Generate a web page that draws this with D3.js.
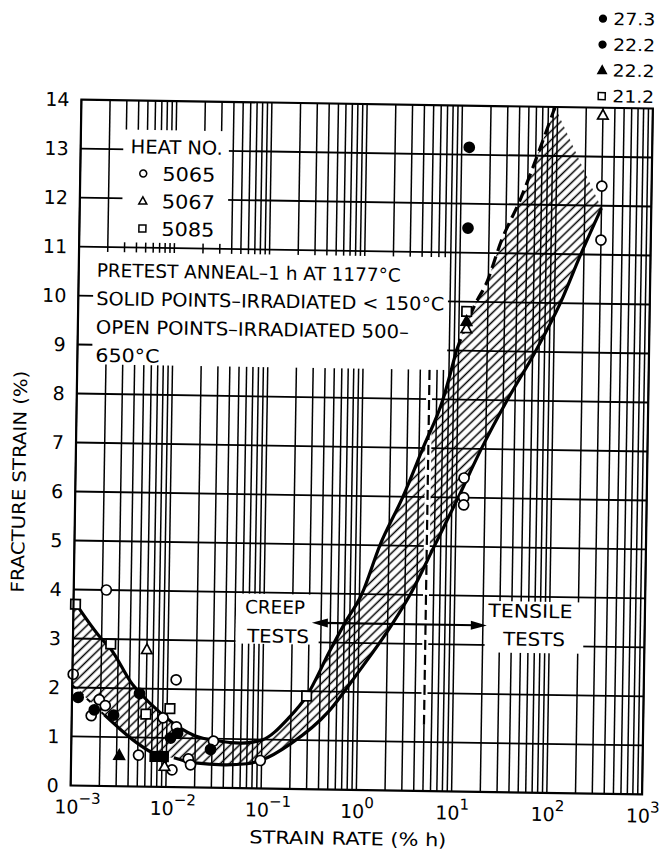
<!DOCTYPE html>
<html lang="en">
<head>
<meta charset="UTF-8">
<title>Fracture strain vs strain rate</title>
<script src="https://d3js.org/d3.v7.min.js"></script>
<style>
  body { margin: 0; background: #fff; }
  text { font-family: "DejaVu Sans", sans-serif; fill: #000; }
</style>
</head>
<body>
<script>
// values: [strain rate (%/h), fracture strain (%)]
var openCircles = [[1.02e-3, 2.27], [2.2e-3, 4.0], [1.93e-3, 1.76], [2.24e-3, 1.64], [1.6e-3, 1.43],
    [9.1e-3, 1.41], [1.23e-2, 2.19], [1.26e-2, 1.23], [5.1e-3, 0.64], [1.15e-2, 0.35],
    [1.7e-2, 0.58], [1.8e-2, 0.46], [3.1e-2, 0.95], [9.7e-2, 0.57],
    [12, 6.4], [12, 6.0], [12, 5.85], [300, 12.4], [300, 11.3]];
var openSquares = [[1.05e-3, 3.7], [2.5e-3, 2.9], [6.0e-3, 1.48], [1.07e-2, 1.6], [0.29, 1.9], [12, 9.8]];
var openTriangles = [[6.0e-3, 2.8], [9.6e-3, 0.42], [12, 9.45], [300, 13.85]];
var filledCircles = [[1.16e-3, 1.8], [1.72e-3, 1.55], [2.75e-3, 1.45], [5.1e-3, 1.9], [1.1e-2, 1.0],
    [1.3e-2, 1.1], [2.9e-2, 0.78], [12, 13.15], [12, 11.5]];
var filledTriangles = [[3.2e-3, 0.63], [12, 9.6]];
var filledSquares = [[7.6e-3, 0.62], [9.3e-3, 0.62]];

// scatter band boundaries
var upperCurve = [[1e-3, 3.78], [2e-3, 3.0], [2.5e-3, 2.8], [4.3e-3, 2.08], [5.1e-3, 1.92], [8.3e-3, 1.53],
    [1.4e-2, 1.2], [2e-2, 1.05], [3.4e-2, 0.96], [6e-2, 0.92], [0.1, 0.99], [0.19, 1.45], [0.29, 1.9],
    [0.5, 2.83], [0.71, 3.4], [1.06, 4.0], [1.61, 5.0], [2.76, 6.0], [4.4, 7.0], [7, 8.0], [9.5, 9.0]];
var upperDashed = [[9.5, 9.0], [14.7, 9.95], [19.3, 10.4], [27, 11.25], [42, 12.1], [65, 13.1], [94, 14]];
var lowerLeft = [[2.2e-3, 1.45], [3e-3, 1.22], [4.8e-3, 0.9], [7e-3, 0.7], [9.5e-3, 0.6]];
var lowerCurve = [[1.2e-2, 0.6], [2e-2, 0.5], [4e-2, 0.47], [7e-2, 0.5], [0.1, 0.58], [0.2, 0.92],
    [0.5, 1.6], [1, 2.4], [2.24, 3.4], [3.4, 4.0], [6, 5.0], [10.5, 6.0], [18, 7.0], [33, 8.0],
    [64, 9.0], [115, 10.0], [185, 11.0], [300, 11.95]];
var leftEdge = [[1e-3, 2.05], [2.2e-3, 1.45]];

// off-scale points listed above the plot
var offScaleKinds = ["filledCircle", "filledCircle", "filledTriangle", "openSquare"];
var offScaleLabels = ["27.3", "22.2", "22.2", "21.2"];

var heatNumbers = ["5065", "5067", "5085"];
var notes = ["PRETEST ANNEAL\u20131 h AT 1177\u00b0C", "SOLID POINTS\u2013IRRADIATED < 150\u00b0C",
    "OPEN POINTS\u2013IRRADIATED 500\u2013", "650\u00b0C"];
var noteWidths = [304, 348, 313, 64];

var yTicks = d3.range(0, 15);
var xDecades = [-3, -2, -1, 0, 1, 2, 3];

var width = 665, height = 850;
var x = d3.scaleLog().domain([1e-3, 1e3]).range([76, 647.5]);
var y = d3.scaleLinear().domain([0, 14]).range([790, 104]);

var svg = d3.select("body").append("svg")
    .attr("width", width)
    .attr("height", height);

var line = d3.line()
    .x(d => x(d[0]))
    .y(d => y(d[1]))
    .curve(d3.curveMonotoneX);

var defs = svg.append("defs");
defs.append("pattern")
    .attr("id", "hatch")
    .attr("patternUnits", "userSpaceOnUse")
    .attr("width", 6.4).attr("height", 6.4)
    .attr("patternTransform", "rotate(45)")
    .append("line")
    .attr("x1", 3.2).attr("y1", 0).attr("x2", 3.2).attr("y2", 6.4)
    .attr("stroke", "#000").attr("stroke-width", 1.5);

// the scanned figure sits slightly tilted
var g = svg.append("g").attr("transform", "rotate(0.9, 362, 447)");

// grid
g.selectAll("line.vgrid")
    .data(x.ticks())
    .enter().append("line")
    .attr("class", "vgrid")
    .attr("x1", d => x(d)).attr("x2", d => x(d))
    .attr("y1", y(0)).attr("y2", y(14))
    .attr("stroke", "#000").attr("stroke-width", 1.5);

g.selectAll("line.hgrid")
    .data(d3.range(1, 14))
    .enter().append("line")
    .attr("class", "hgrid")
    .attr("x1", x(1e-3)).attr("x2", x(1e3))
    .attr("y1", d => y(d)).attr("y2", d => y(d))
    .attr("stroke", "#000").attr("stroke-width", 1.8);

// white boxes behind the lettering
var boxes = [
    [2.8e-3, 3.6e-2, 11.1, 13.4],
    [1.43e-3, 7.6, 8.6, 10.9],
    [0.051, 0.38, 2.95, 3.97],
    [21, 228, 2.85, 3.9]
];
g.selectAll("rect.box")
    .data(boxes)
    .enter().append("rect")
    .attr("class", "box")
    .attr("x", d => x(d[0]))
    .attr("width", d => x(d[1]) - x(d[0]))
    .attr("y", d => y(d[3]))
    .attr("height", d => y(d[2]) - y(d[3]))
    .attr("fill", "#fff");

// hatched band: along the upper boundary, then back along the lower one
var upperAll = upperCurve.concat(upperDashed.slice(1));
var lowerAll = [leftEdge[0]].concat(lowerLeft, lowerCurve);
var bandPath = line(upperAll) + "L" + line(lowerAll.slice().reverse()).slice(1) + "Z";
g.append("path")
    .attr("d", bandPath)
    .attr("fill", "url(#hatch)")
    .attr("stroke", "none");

// creep / tensile divider
var divider = [[5, 1.35], [5, 8.6]];
g.append("line")
    .attr("x1", x(divider[0][0])).attr("x2", x(divider[1][0]))
    .attr("y1", y(divider[0][1])).attr("y2", y(divider[1][1]))
    .attr("stroke", "#fff").attr("stroke-width", 6);
g.append("line")
    .attr("x1", x(divider[0][0])).attr("x2", x(divider[1][0]))
    .attr("y1", y(divider[0][1])).attr("y2", y(divider[1][1]))
    .attr("stroke", "#000").attr("stroke-width", 2.2)
    .attr("stroke-dasharray", "10,5");

// boundary curves
g.append("path").attr("d", line(upperCurve))
    .attr("fill", "none").attr("stroke", "#000").attr("stroke-width", 3.2);
g.append("path").attr("d", line(upperDashed))
    .attr("fill", "none").attr("stroke", "#000").attr("stroke-width", 3.2)
    .attr("stroke-dasharray", "12,6");
g.append("path").attr("d", line(lowerLeft))
    .attr("fill", "none").attr("stroke", "#000").attr("stroke-width", 3.2);
g.append("path").attr("d", line(lowerCurve))
    .attr("fill", "none").attr("stroke", "#000").attr("stroke-width", 3.2);
g.append("path").attr("d", line(leftEdge))
    .attr("fill", "none").attr("stroke", "#000").attr("stroke-width", 2)
    .attr("stroke-dasharray", "5,5");

// creep / tensile arrow
var arrowRange = [0.32, 22], arrowLevel = 3.4;
var ay = y(arrowLevel), ax0 = x(arrowRange[0]), ax1 = x(arrowRange[1]);
g.append("line")
    .attr("x1", ax0 + 10).attr("x2", ax1 - 10)
    .attr("y1", ay).attr("y2", ay)
    .attr("stroke", "#000").attr("stroke-width", 2.2);
g.append("path")
    .attr("d", "M" + ax0 + "," + ay + "L" + (ax0 + 16) + "," + (ay - 4.5) + "L" + (ax0 + 16) + "," + (ay + 4.5) + "Z")
    .attr("fill", "#000");
g.append("path")
    .attr("d", "M" + ax1 + "," + ay + "L" + (ax1 - 16) + "," + (ay - 4.5) + "L" + (ax1 - 16) + "," + (ay + 4.5) + "Z")
    .attr("fill", "#000");

// data points
function drawMarks(data, kind, size) {
    var filled = kind.indexOf("filled") === 0;
    var shape = kind.replace("filled", "").replace("open", "").toLowerCase();
    var sel = g.append("g").selectAll("path")
        .data(data)
        .enter().append("path")
        .attr("transform", d => "translate(" + x(d[0]) + "," + y(d[1]) + ")")
        .attr("fill", filled ? "#000" : "#fff")
        .attr("stroke", "#000")
        .attr("stroke-width", 1.7);
    var r = size / 2;
    if (shape === "circle") {
        sel.attr("d", d3.symbol().type(d3.symbolCircle).size(Math.PI * r * r));
    } else if (shape === "square") {
        sel.attr("d", "M" + (-r) + "," + (-r) + "h" + size + "v" + size + "h" + (-size) + "Z");
    } else {
        sel.attr("d", "M0," + (-r * 1.1) + "L" + (r * 1.05) + "," + (r * 0.8) + "L" + (-r * 1.05) + "," + (r * 0.8) + "Z");
    }
}
drawMarks(openCircles, "openCircle", 10);
drawMarks(openSquares, "openSquare", 9.5);
drawMarks(openTriangles, "openTriangle", 10);
drawMarks(filledCircles, "filledCircle", 10);
drawMarks(filledTriangles, "filledTriangle", 10);
drawMarks(filledSquares, "filledSquare", 9.5);

// plot frame
g.append("rect")
    .attr("x", x(1e-3)).attr("y", y(14))
    .attr("width", x(1e3) - x(1e-3)).attr("height", y(0) - y(14))
    .attr("fill", "none").attr("stroke", "#000").attr("stroke-width", 2.2);

// y axis labels
g.selectAll("text.ytick")
    .data(yTicks)
    .enter().append("text")
    .attr("class", "ytick")
    .attr("x", x(1e-3) - 12)
    .attr("y", d => y(d))
    .attr("dy", "0.36em")
    .attr("text-anchor", "end")
    .style("font-size", "19px")
    .text(d => d);

// x axis labels 10^n
var xl = g.selectAll("text.xtick")
    .data(xDecades)
    .enter().append("text")
    .attr("class", "xtick")
    .attr("x", d => x(Math.pow(10, d)) - 16)
    .attr("y", y(0) + 28)
    .style("font-size", "19px");
xl.append("tspan").text("10");
xl.append("tspan")
    .attr("dy", -10)
    .style("font-size", "15px")
    .text(d => d < 0 ? "\u2212" + (-d) : d);

// axis titles
g.append("text")
    .attr("x", 354).attr("y", 845)
    .attr("text-anchor", "middle")
    .attr("textLength", 197).attr("lengthAdjust", "spacingAndGlyphs")
    .style("font-size", "18px")
    .text("STRAIN RATE (% h)");

g.append("text")
    .attr("transform", "translate(26,487) rotate(-90)")
    .attr("text-anchor", "middle")
    .attr("textLength", 222).attr("lengthAdjust", "spacingAndGlyphs")
    .style("font-size", "18px")
    .text("FRACTURE STRAIN (%)");

// legend
g.append("text")
    .attr("x", 126).attr("y", 157)
    .attr("textLength", 92).attr("lengthAdjust", "spacingAndGlyphs")
    .style("font-size", "19px")
    .text("HEAT NO.");
var legendKinds = ["circle", "triangle", "square"];
heatNumbers.forEach(function (h, i) {
    var ly = 184 + i * 27.5;
    var m = g.append("path")
        .attr("transform", "translate(139," + (ly - 7) + ")")
        .attr("fill", "#fff").attr("stroke", "#000").attr("stroke-width", 1.5);
    if (legendKinds[i] === "circle") m.attr("d", d3.symbol().type(d3.symbolCircle).size(38));
    else if (legendKinds[i] === "square") m.attr("d", "M-3.5,-3.5h7v7h-7Z");
    else m.attr("d", "M0,-4.2L4,3L-4,3Z");
    g.append("text")
        .attr("x", 158).attr("y", ly)
        .attr("textLength", 53).attr("lengthAdjust", "spacingAndGlyphs")
        .style("font-size", "19px")
        .text(h);
});

// notes box
notes.forEach(function (t, i) {
    g.append("text")
        .attr("x", 94).attr("y", 281 + i * 28.3)
        .attr("textLength", noteWidths[i]).attr("lengthAdjust", "spacingAndGlyphs")
        .style("font-size", "18.5px")
        .text(t);
});

// creep / tensile labels
g.append("text").attr("x", 247.5).attr("y", 615)
    .attr("textLength", 60).attr("lengthAdjust", "spacingAndGlyphs")
    .style("font-size", "18.5px").text("CREEP");
g.append("text").attr("x", 250).attr("y", 644)
    .attr("textLength", 62).attr("lengthAdjust", "spacingAndGlyphs")
    .style("font-size", "18.5px").text("TESTS");
g.append("text").attr("x", 491).attr("y", 615)
    .attr("textLength", 84).attr("lengthAdjust", "spacingAndGlyphs")
    .style("font-size", "18.5px").text("TENSILE");
g.append("text").attr("x", 506).attr("y", 643)
    .attr("textLength", 62).attr("lengthAdjust", "spacingAndGlyphs")
    .style("font-size", "18.5px").text("TESTS");

// off-scale values above the frame
offScaleLabels.forEach(function (t, i) {
    var by = 21 + i * 25.8;
    var kind = offScaleKinds[i];
    var mx = x(300) - 1.5, my = by - 6;
    var m = g.append("path")
        .attr("transform", "translate(" + mx + "," + my + ")")
        .attr("stroke", "#000").attr("stroke-width", 1.5)
        .attr("fill", kind.indexOf("filled") === 0 ? "#000" : "#fff");
    if (kind.indexOf("Circle") > 0) m.attr("d", d3.symbol().type(d3.symbolCircle).size(36));
    else if (kind.indexOf("Square") > 0) m.attr("d", "M-3.5,-3.5h7v7h-7Z");
    else m.attr("d", "M0,-4.5L4.2,3.2L-4.2,3.2Z");
    g.append("text")
        .attr("x", x(300) + 9).attr("y", by)
        .attr("textLength", 42).attr("lengthAdjust", "spacingAndGlyphs")
        .style("font-size", "17px")
        .text(t);
});
</script>
</body>
</html>
